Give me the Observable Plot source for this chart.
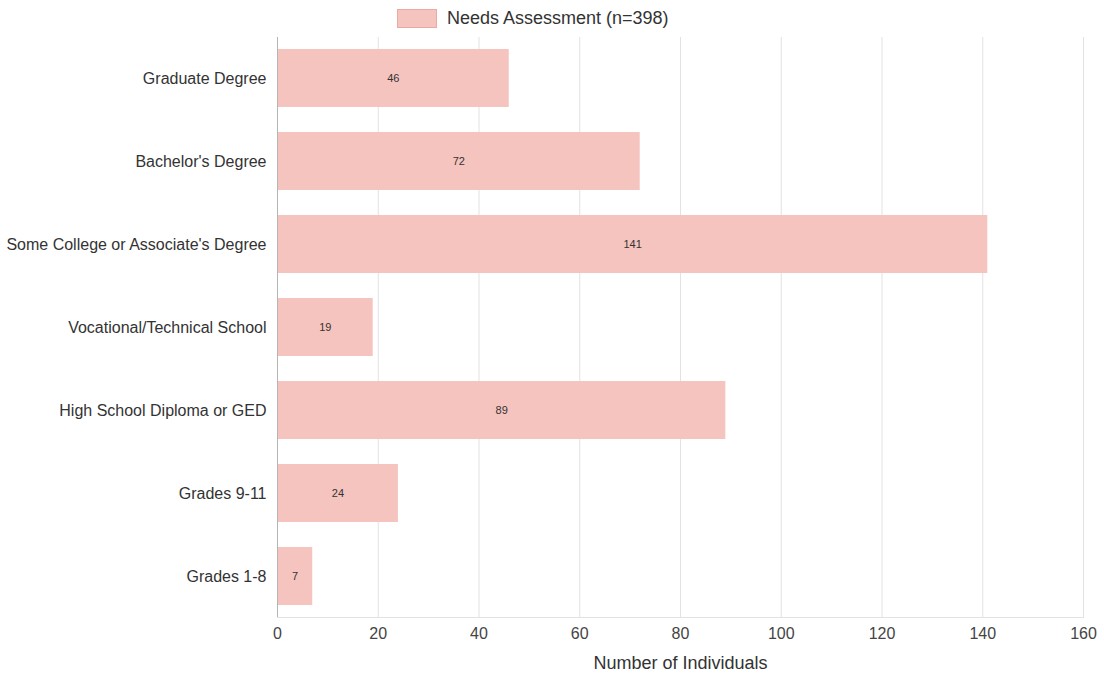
<!DOCTYPE html>
<html>
<head>
<meta charset="utf-8">
<script src="https://cdn.jsdelivr.net/npm/d3@7"></script>
<script src="https://cdn.jsdelivr.net/npm/@observablehq/plot@0.6"></script>
<style>
  html, body { margin: 0; padding: 0; background: #fff; }
  body { width: 1104px; height: 677px; overflow: hidden; font-family: "Liberation Sans", Arial, sans-serif; }
  #legend { height: 36px; display: flex; align-items: center; justify-content: flex-start; padding-left: 397px; box-sizing: border-box; }
  #legend .sw { width: 38px; height: 17px; background: #f6c4bf; border: 1px solid #eaa9a2; margin-right: 10px; }
  #legend .lb { font-size: 18px; color: #333; }
</style>
</head>
<body>
<div id="legend"><div class="sw"></div><div class="lb"></div></div>
<div id="chart"></div>
<script>
const seriesName = "Needs Assessment (n=398)";
const categories = [
  "Graduate Degree",
  "Bachelor's Degree",
  "Some College or Associate's Degree",
  "Vocational/Technical School",
  "High School Diploma or GED",
  "Grades 9-11",
  "Grades 1-8"
];
const values = [46, 72, 141, 19, 89, 24, 7];
const xTicks = [0, 20, 40, 60, 80, 100, 120, 140, 160];
const xLabel = "Number of Individuals";

document.querySelector("#legend .lb").textContent = seriesName;

const data = categories.map((c, i) => ({category: c, value: values[i]}));

const chart = Plot.plot({
  width: 1104,
  height: 641,
  marginLeft: 277,
  marginRight: 21,
  marginTop: 1,
  marginBottom: 60,
  style: {fontFamily: "'Liberation Sans', Arial, sans-serif", background: "#fff"},
  x: {domain: [0, 160], ticks: xTicks},
  y: {domain: categories, paddingInner: 0.3, paddingOuter: 0.14},
  marks: [
    Plot.gridX(xTicks, {stroke: "#e2e2e2", strokeOpacity: 1}),
    Plot.frame({anchor: "bottom", stroke: "#e2e2e2"}),
    Plot.barX(data, {x: "value", y: "category", fill: "#f6c4bf"}),
    Plot.ruleX([0], {stroke: "#b5b5b5"}),
    Plot.text(data, {x: d => d.value / 2, y: "category", text: d => String(d.value), fontSize: 11, fill: "#333"}),
    Plot.axisY({tickSize: 0, tickPadding: 11, fontSize: 16, fill: "#333", label: null}),
    Plot.axisX(xTicks, {tickSize: 0, tickPadding: 10, fontSize: 16, fill: "#444", label: null}),
    Plot.text([xLabel], {frameAnchor: "bottom", dy: 51, text: d => d, fontSize: 18, fill: "#333"})
  ]
});
document.getElementById("chart").appendChild(chart);
</script>
</body>
</html>
